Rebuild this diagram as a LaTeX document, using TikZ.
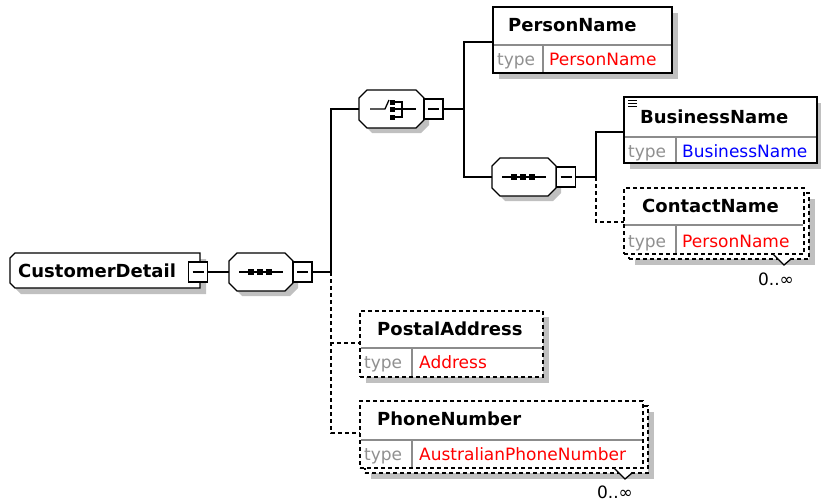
\documentclass[tikz,border=0pt]{standalone}
\usepackage{fontspec}
\setmainfont{DejaVu Sans}
\definecolor{shadowc}{HTML}{C0C0C0}
\definecolor{typegrey}{HTML}{909090}
\definecolor{divgrey}{HTML}{8C8C8C}
\definecolor{valred}{HTML}{FF0000}
\definecolor{valblue}{HTML}{0000FF}
\tikzset{
  ln/.style={line width=1.3pt},
  dsh/.style={line width=1.3pt, dash pattern=on 4pt off 3pt},
  shd/.style={fill=shadowc, draw=none},
  ebox/.style={draw, line width=1.3pt, fill=white, rectangle, inner sep=0pt, outer sep=0pt, anchor=north west},
  dbox/.style={ebox, dash pattern=on 4pt off 3pt},
  inv/.style={draw=none, rectangle, inner sep=0pt, outer sep=0pt},
  minus/.style={draw, line width=1.3pt, fill=white, rectangle, inner sep=0pt, outer sep=0pt, minimum width=19pt, minimum height=20pt},
  divl/.style={draw=divgrey, line width=1.2pt},
  bname/.style={font=\bfseries\fontsize{18}{20}\selectfont, inner sep=0pt, anchor=base west},
  tlab/.style={font=\fontsize{17}{20}\selectfont, text=typegrey, inner sep=0pt, anchor=base west},
  tval/.style={font=\fontsize{17}{20}\selectfont, inner sep=0pt, anchor=base west},
  mult/.style={font=\fontsize{17}{20}\selectfont, inner sep=0pt, anchor=base},
}
\newcommand\myocta[4]{%
  \fill[shd] (#1+13,#2+5) -- (#3-3,#2+5) -- (#3+5,#2+13) -- (#3+5,#4-3) -- (#3-3,#4+5) -- (#1+13,#4+5) -- (#1+5,#4-3) -- (#1+5,#2+13) -- cycle;
  \draw[ln, fill=white] (#1+8,#2) -- (#3-8,#2) -- (#3,#2+8) -- (#3,#4-8) -- (#3-8,#4) -- (#1+8,#4) -- (#1,#4-8) -- (#1,#2+8) -- cycle;}
\newcommand\myseqicon[2]{%
  \draw[ln] (#1-22,#2) -- (#1+22,#2);
  \fill (#1-13,#2-3) rectangle (#1-7,#2+3);
  \fill (#1-4,#2-3) rectangle (#1+2,#2+3);
  \fill (#1+5,#2-3) rectangle (#1+11,#2+3);}
\newcommand\myminusline[1]{\draw[ln] ([xshift=4pt]#1.west) -- ([xshift=-4pt]#1.east);}
\begin{document}
\begin{tikzpicture}[x=1pt,y=-1pt]
\useasboundingbox (0,0) rectangle (821,503);

% ---------- CustomerDetail
\fill[shd] (21,259) -- (206,259) -- (206,294) -- (21,294) -- (16,289) -- (16,264) -- cycle;
\draw[ln, fill=white] (15,253) -- (200,253) -- (200,288) -- (15,288) -- (10,283) -- (10,258) -- cycle;
\node[inv, minimum width=190pt, minimum height=35pt] (cd) at (105,270.5) {};
\node[bname] (cdname) at (18,277) {CustomerDetail};
\node[minus] (cdm) at (198,272) {};
\myminusline{cdm}

% ---------- sequence 1
\myocta{229}{253}{293}{291}
\node[inv, minimum width=64pt, minimum height=38pt] (s1) at (261,272) {};
\myseqicon{261}{272}
\node[minus] (s1m) at (302.5,272) {};
\myminusline{s1m}
\draw[ln] (cdm.east) -- (s1.west);
\coordinate (j1) at (331,272);
\draw[ln] (s1m.east) -- (j1);

% ---------- choice
\myocta{359}{90}{424}{128}
\node[inv, minimum width=65pt, minimum height=38pt] (ch) at (391.5,109) {};
\draw[ln] (370,109) -- (385,109) -- (389,100);
\fill (389.5,99.5) rectangle (394.5,104.5);
\fill (389.5,106.5) rectangle (394.5,111.5);
\fill (389.5,114.5) rectangle (394.5,119.5);
\draw[ln] (394,102) -- (402,102) -- (402,117) -- (394,117);
\draw[ln] (394,109) -- (416,109);
\node[minus] (chm) at (433.5,109) {};
\myminusline{chm}
\draw[ln] (j1) |- (ch.west);
\coordinate (j2) at (464,109);
\draw[ln] (chm.east) -- (j2);

% ---------- PersonName
\fill[shd] (499,13) rectangle (678,79);
\node[ebox, minimum width=179pt, minimum height=66pt] (pn) at (493,7) {};
\draw[divl] (494,45) -- (671,45);
\draw[divl] (543,45) -- (543,72);
\node[bname] (pnname) at (508,32) {PersonName};
\node[tlab] (pntype) at (497,66) {type};
\node[tval, text=valred] (pnval) at (549,66) {PersonName};
\coordinate (pnin) at (493,42);
\draw[ln] (j2) |- (pnin);

% ---------- sequence 2
\myocta{492}{158}{556}{196}
\node[inv, minimum width=64pt, minimum height=38pt] (s2) at (524,177) {};
\myseqicon{524}{177}
\node[minus] (s2m) at (566,177) {};
\myminusline{s2m}
\draw[ln] (j2) |- (s2.west);
\coordinate (j3) at (596,177);
\draw[ln] (s2m.east) -- (j3);

% ---------- BusinessName
\fill[shd] (630,103) rectangle (823,169);
\node[ebox, minimum width=193pt, minimum height=66pt] (bn) at (624,97) {};
\draw[divl] (625,137) -- (816,137);
\draw[divl] (676,137) -- (676,162);
\draw[line width=1pt] (628,100) -- (637,100) (628,103.3) -- (637,103.3) (628,106.6) -- (637,106.6);
\node[bname] (bnname) at (640,123) {BusinessName};
\node[tlab] (bntype) at (628,157) {type};
\node[tval, text=valblue] (bnval) at (682,157) {BusinessName};
\coordinate (bnin) at (624,132);
\draw[ln] (j3) |- (bnin);

% ---------- ContactName
\fill[shd] (635,199) rectangle (815,265);
\node[dbox, minimum width=180pt, minimum height=66pt] (cnb) at (629,193) {};
\node[dbox, minimum width=180pt, minimum height=66pt] (cn) at (624,188) {};
\draw[divl] (625,225) -- (803,225);
\draw[divl] (676,225) -- (676,253);
\node[bname] (cnname) at (642,212) {ContactName};
\node[tlab] (cntype) at (628,247) {type};
\node[tval, text=valred] (cnval) at (682,247) {PersonName};
\draw[ln, fill=white] (773,254) -- (784,265) -- (791,259);
\node[mult] (cnmult) at (776,285) {0..∞};
\coordinate (cnin) at (624,222);
\draw[dsh] (j3) |- (cnin);

% ---------- PostalAddress
\fill[shd] (366,317) rectangle (549,383);
\node[dbox, minimum width=183pt, minimum height=66pt] (pa) at (360,311) {};
\draw[divl] (361,348) -- (542,348);
\draw[divl] (412,348) -- (412,376);
\node[bname] (paname) at (377,335) {PostalAddress};
\node[tlab] (patype) at (364,368) {type};
\node[tval, text=valred] (paval) at (419,368) {Address};
\coordinate (pain) at (360,343);
\draw[dsh] (j1) |- (pain);

% ---------- PhoneNumber
\fill[shd] (371,412) rectangle (654,479);
\node[dbox, minimum width=283pt, minimum height=67pt] (phb) at (365,406) {};
\node[dbox, minimum width=283pt, minimum height=67pt] (ph) at (360,401) {};
\draw[divl] (361,440) -- (642,440);
\draw[divl] (412,440) -- (412,467);
\node[bname] (phname) at (377,425) {PhoneNumber};
\node[tlab] (phtype) at (364,460) {type};
\node[tval, text=valred] (phval) at (419,460) {AustralianPhoneNumber};
\draw[ln, fill=white] (614,468) -- (625,479) -- (632,473);
\node[mult] (phmult) at (615,498) {0..∞};
\coordinate (phin) at (360,433);
\draw[dsh] (j1) |- (phin);
\end{tikzpicture}
\end{document}
